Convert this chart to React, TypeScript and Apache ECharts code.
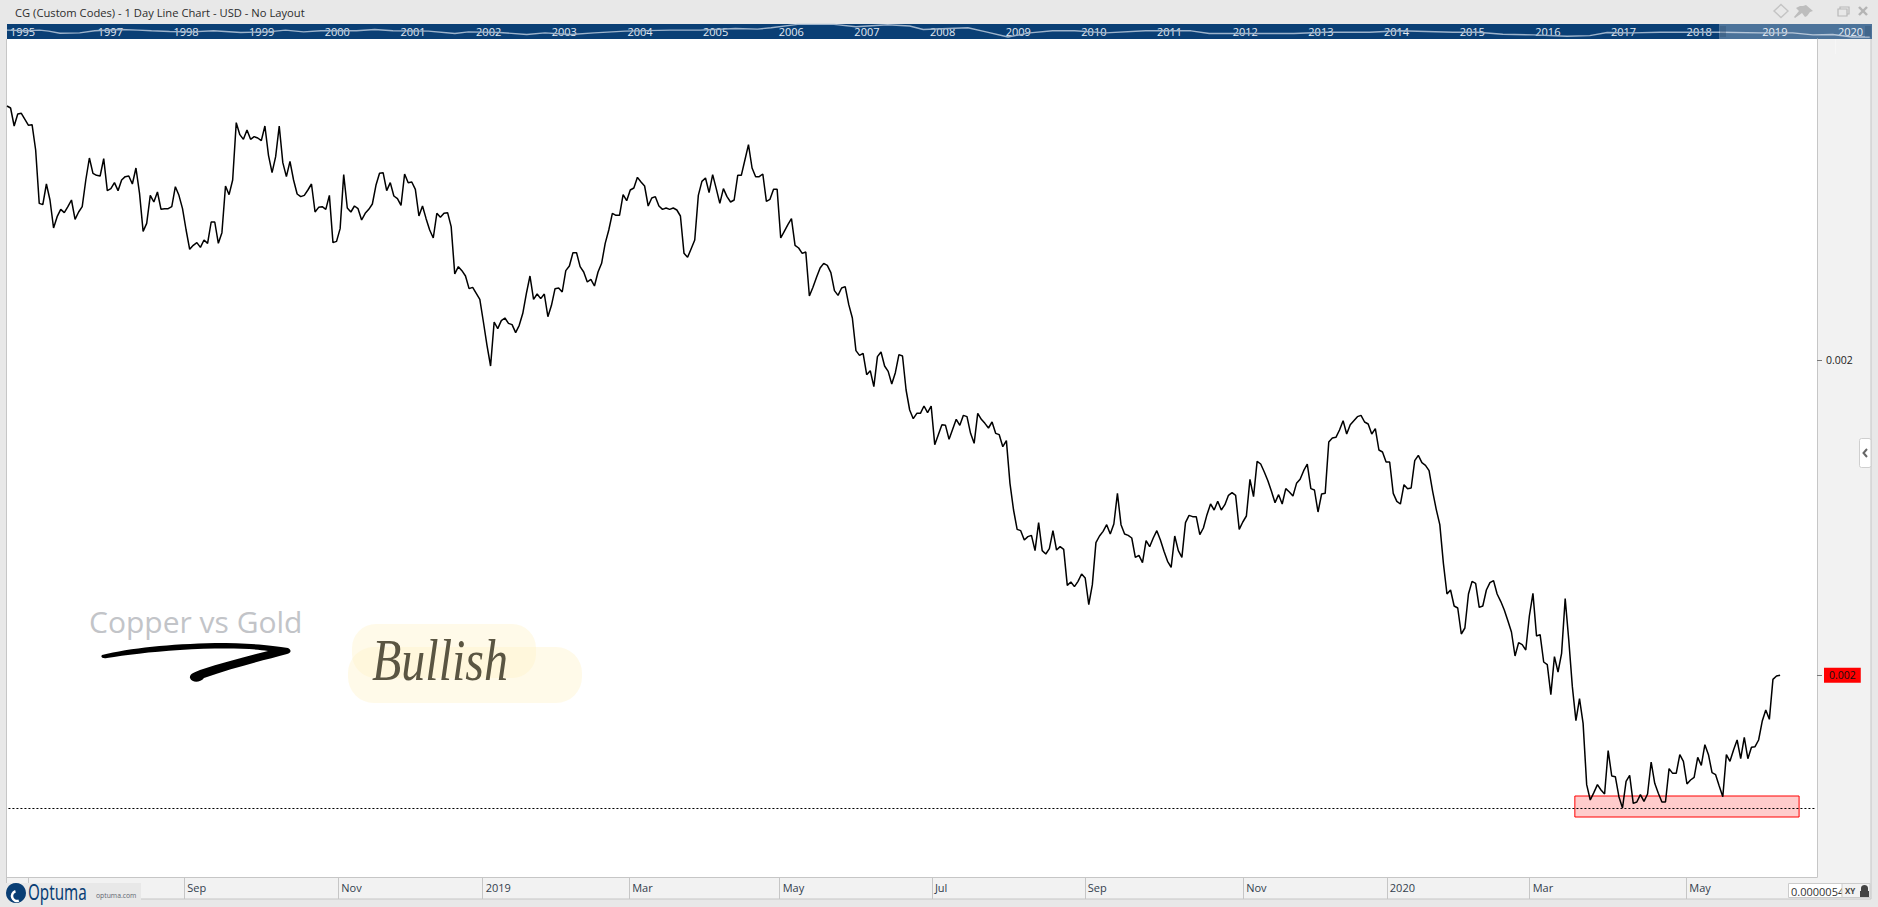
import React, { useEffect, useRef } from "react";
import * as echarts from "echarts";

// Copper / gold ratio, one close per trading day, in millionths
const ratioMicro = [
  2381,2378,2351,2369,2370,2361,2352,2353,2315,2235,2233,2264,2240,2198,2215,2226,2221,2230,2240,2211,
  2222,2230,2270,2303,2280,2277,2276,2302,2254,2257,2266,2254,2270,2275,2276,2264,2288,2250,2193,2205,
  2247,2237,2252,2226,2227,2227,2230,2260,2247,2227,2195,2166,2172,2176,2169,2180,2175,2207,2207,2175,
  2191,2261,2248,2270,2356,2338,2331,2345,2331,2335,2333,2329,2351,2307,2281,2305,2351,2296,2275,2298,
  2270,2249,2245,2247,2255,2264,2222,2229,2230,2226,2247,2176,2178,2197,2278,2228,2222,2231,2227,2210,
  2220,2226,2234,2262,2280,2281,2254,2266,2246,2242,2232,2279,2266,2267,2256,2216,2231,2212,2195,2183,
  2220,2214,2220,2221,2200,2129,2140,2134,2126,2107,2109,2100,2091,2057,2022,1991,2057,2047,2059,2063,
  2055,2053,2041,2052,2070,2100,2126,2091,2099,2092,2099,2065,2082,2107,2108,2102,2134,2141,2161,2161,
  2140,2132,2117,2121,2111,2132,2145,2175,2195,2220,2217,2217,2248,2239,2255,2258,2274,2267,2261,2231,
  2243,2245,2231,2226,2228,2226,2228,2225,2216,2160,2154,2167,2180,2247,
  2268,2273,2251,2278,2257,2235,2257,2245,2237,2240,2277,2277,2300,2323,2288,2275,2275,2279,2238,2241,
  2256,2256,2183,2193,2203,2212,2172,2168,2160,2162,2096,2109,2124,2138,2145,2142,2131,2104,2097,2108,
  2110,2083,2063,2014,2007,2010,1978,1984,1960,2005,2012,1991,1983,1964,1981,2008,2006,1955,
  1925,1912,1920,1920,1931,1921,1931,1873,1888,1903,1902,1881,1896,1911,1902,1917,1915,1890,1875,1920,
  1911,1905,1898,1907,1890,1888,1870,1879,1815,1775,1746,1744,1730,1735,1737,1714,1756,1714,1709,1717,
  1744,1715,1720,1716,1662,1667,1660,1668,1679,1673,1633,1663,1726,1736,1743,1753,1739,1754,1800,1753,
  1739,1737,1733,1704,1707,1696,1729,1720,1733,1744,1730,1713,1698,1689,1736,1714,1704,1756,1767,1765,
  1765,1738,1748,1768,1784,1775,1788,1775,1783,1797,1801,1797,1746,1757,1766,1821,1795,1848,1844,1832,
  1819,1803,1786,1798,1784,1807,1802,1796,1815,1821,1834,1844,1807,1805,1772,1799,1800,1877,1883,1884,
  1895,1909,1889,1903,1909,1915,1917,1907,1904,1889,1897,1865,1862,1847,1847,1800,1788,1784,
  1813,1807,1808,1849,1857,1846,1842,1834,1803,1776,1753,1695,1649,1655,1631,1628,1589,1598,1649,1668,
  1665,1629,1631,1655,1666,1669,1649,1638,1625,1609,1592,1556,1576,1573,1565,1616,1650,1586,1588,1547,
  1543,1498,1555,1532,1560,1642,1580,1510,1459,1492,1455,1363,1340,1351,1363,1355,1349,1414,1376,1375,
  1345,1328,1368,1377,1335,1337,1348,1338,1349,1397,1365,1350,1337,1337,1387,1380,1380,1408,1398,1364,
  1370,1374,1404,1392,1423,1408,1381,1378,1361,1345,1408,1398,1415,1430,1402,1434,1402,1419,1420,1430,
  1458,1475,1461,1521,1526,1527,
];
const supportLevelMicro = 1328;
const zoneLowMicro = 1314.5;
const zoneHighMicro = 1346;
const zoneStartDay = 437.7;
const zoneEndDay = 500.3;

// Time axis: month labels and the trading-day index they fall on
const monthLabels = ["Sep", "Nov", "2019", "Mar", "May", "Jul", "Sep", "Nov", "2020", "Mar", "May"];
const monthDays = [49.5, 92.5, 132.8, 173.7, 215.7, 258.2, 300.9, 345.1, 385.2, 425.1, 468.8];
const extraTickDays = [5.8];

// Navigator strip: whole history
const navYears = [
  1995.84,1996.1,1996.27,1996.39,1996.54,1996.8,1997,1997.34,1997.57,1997.75,1997.99,1998.28,1998.57,1998.93,
  1999.29,1999.52,1999.76,1999.99,2000.46,2000.7,2000.94,2001.41,2001.76,2001.94,2002.35,2002.71,2002.95,2003.29,
  2003.6,2004.01,2004.6,2005,2005.47,2005.76,2005.94,2006.29,2006.77,2007.06,2007.48,2007.77,2007.95,2008.54,
  2008.78,2009.07,2009.36,2009.66,2009.95,2010.36,2010.89,2011.49,2011.73,2012.02,2012.37,2012.85,2013.26,2013.85,
  2014.25,2014.95,2015.27,2015.61,2016.01,2016.46,2016.76,2016.99,2017.33,2017.69,2018.08,2018.48,2019.01,2019.44,
  2019.71,2019.97,2020.23,2020.46,
];
const navLevels = [
  26,24,26,23,17,18,24,28,26,24,22,21,24,19,21,26,21,24,24,28,24,23,16,21,19,13,18,13,
  18,23,26,26,31,29,33,43,43,36,42,38,28,33,21,6,18,24,24,18,24,24,16,16,16,16,20,20,
  24,20,20,14,12,8,10,19,18,20,20,20,18,18,12,13,6,6,
];
const navTickYears = [1997,1998,1999,2000,2001,2002,2003,2004,2005,2006,2007,2008,2009,2010,2011,2012,2013,2014,2015,2016,2017,2018,2019,2020];
const navFirstLabel = 1995.84;

const titleText = "CG (Custom Codes) - 1 Day Line Chart - USD - No Layout";

const ratio = ratioMicro.map((v) => v / 1e6);
const lastValue = ratio[ratio.length - 1];
const FONT = "'Open Sans', 'Noto Sans', sans-serif";

echarts.graphic.registerShape(
  "brushArrow",
  echarts.graphic.extendPath(
    "M102 655 C130 648 170 644 215 643 C245 643 272 645 288 648 C292 650 291 653 287 654 C265 660 235 667 204 678 C200 683 192 683 190 678 C189 674 195 672 200 670 C225 662 248 656 268 651 C250 648 215 648 180 650 C150 652 125 655 107 658 C103 659 100 657 102 655 Z",
    {}
  )
);
echarts.graphic.registerShape(
  "pinIcon",
  echarts.graphic.extendPath("M1806 5 L1813 11 L1810 12 L1807 16 L1805 17 L1802 13 L1795 18 L1794 17 L1799 11 L1796 8 L1800 6 L1803 6 Z", {})
);
echarts.graphic.registerShape(
  "lockIcon",
  echarts.graphic.extendPath("M1861 891 L1861 888 C1861 884 1868 884 1868 888 L1868 891 L1869 891 L1869 897 L1860 897 L1860 891 Z", {})
);

const rect = (x: number, y: number, w: number, h: number, fill: string, extra: any = {}) => ({
  type: "rect",
  shape: { x, y, width: w, height: h, r: extra.r ?? 0 },
  style: { fill, stroke: extra.stroke, lineWidth: extra.lineWidth ?? 0, opacity: extra.opacity ?? 1 },
  z: extra.z ?? -1,
  silent: true,
});
const line = (x1: number, y1: number, x2: number, y2: number, stroke: string, lineWidth = 1, z = 5) => ({
  type: "line",
  shape: { x1, y1, x2, y2 },
  style: { stroke, lineWidth },
  z,
  silent: true,
});
const label = (text: string, x: number, y: number, fontSize: number, fill: string, extra: any = {}) => ({
  type: "text",
  x,
  y,
  style: {
    text,
    fontSize,
    fill,
    fontFamily: extra.fontFamily ?? FONT,
    fontStyle: extra.fontStyle ?? "normal",
    fontWeight: extra.fontWeight ?? "normal",
    verticalAlign: "middle",
    align: extra.align ?? "left",
  },
  scaleX: extra.scaleX ?? 1,
  scaleY: extra.scaleY ?? 1,
  z: extra.z ?? 6,
  silent: true,
});

export default function App() {
  const ref = useRef<HTMLDivElement>(null);
  useEffect(() => {
    document.body.style.margin = "0";
    const chart = echarts.init(ref.current!, null, { renderer: "svg", width: 1878, height: 907 });
    chart.setOption({
      animation: false,
      backgroundColor: "#e8e8e8",
      grid: [
        { left: 7, top: 39, width: 1810, height: 838, show: true, backgroundColor: "#ffffff", borderWidth: 0, containLabel: false },
        { left: 7, top: 24, width: 1865, height: 15, show: true, backgroundColor: "#0a3f75", borderWidth: 0, containLabel: false },
      ],
      xAxis: [
        {
          type: "value",
          gridIndex: 0,
          min: 0,
          max: 505.3,
          splitLine: { show: false },
          axisLine: { show: true, onZero: false, lineStyle: { color: "#c6c6c6", width: 1 } },
          axisTick: {
            show: true,
            inside: false,
            length: 22,
            customValues: [...extraTickDays, ...monthDays],
            lineStyle: { color: "#c6c6c6", width: 1 },
          },
          axisLabel: {
            show: true,
            customValues: monthDays,
            formatter: (v: number) => monthLabels[monthDays.indexOf(v)] ?? "",
            align: "left",
            margin: 5,
            padding: [0, 0, 0, 3],
            fontSize: 11,
            fontFamily: FONT,
            color: "#33404d",
          },
        },
        {
          type: "value",
          gridIndex: 1,
          position: "top",
          min: 1995.84,
          max: 2020.49,
          splitLine: { show: false },
          axisLine: { show: false },
          axisTick: {
            show: true,
            inside: true,
            length: 15,
            customValues: navTickYears,
            lineStyle: { color: "rgba(255,255,255,0.3)", width: 1 },
          },
          axisLabel: {
            show: true,
            inside: true,
            customValues: [navFirstLabel, ...navTickYears],
            formatter: (v: number) => String(Math.floor(v)),
            align: "left",
            verticalAlign: "middle",
            margin: 7,
            padding: [0, 0, 0, 3],
            fontSize: 11,
            fontFamily: FONT,
            color: "#e3eaf2",
          },
        },
      ],
      yAxis: [
        {
          type: "value",
          gridIndex: 0,
          position: "right",
          min: 1224.5e-6,
          max: 2481.5e-6,
          splitLine: { show: false },
          axisLine: { show: true, onZero: false, lineStyle: { color: "#c6c6c6", width: 1 } },
          axisTick: {
            show: true,
            length: 5,
            customValues: [0.002, lastValue],
            lineStyle: { color: "#777777", width: 1 },
          },
          axisLabel: {
            show: true,
            customValues: [0.002, lastValue],
            margin: 7,
            formatter: (v: number) => (v === lastValue ? "{tag|" + v.toFixed(3) + "}" : "{plain|" + v.toFixed(3) + "}"),
            rich: {
              plain: { fontSize: 10.5, fontFamily: FONT, color: "#222222", padding: [0, 0, 0, 2] },
              tag: { fontSize: 10.5, fontFamily: FONT, color: "#111111", backgroundColor: "#ff0000", padding: [2, 5, 2, 5] },
            },
          },
        },
        {
          type: "value",
          gridIndex: 1,
          min: 0,
          max: 44,
          show: false,
          splitLine: { show: false },
        },
      ],
      series: [
        {
          type: "line",
          xAxisIndex: 0,
          yAxisIndex: 0,
          data: ratio.map((v, i) => [i, v]),
          symbol: "none",
          silent: true,
          lineStyle: { color: "#000000", width: 1.5 },
          z: 5,
          markArea: {
            silent: true,
            z: 3,
            itemStyle: { color: "rgba(255,0,0,0.2)", borderColor: "#ff0000", borderWidth: 1 },
            data: [[
              { xAxis: zoneStartDay, yAxis: zoneHighMicro / 1e6 },
              { xAxis: zoneEndDay, yAxis: zoneLowMicro / 1e6 },
            ]],
          },
          markLine: {
            silent: true,
            symbol: "none",
            z: 4,
            label: { show: false },
            lineStyle: { color: "#000000", width: 1, type: [2, 2] },
            data: [[
              { xAxis: 0.4, yAxis: supportLevelMicro / 1e6 },
              { xAxis: 504.8, yAxis: supportLevelMicro / 1e6 },
            ]],
          },
        },
        {
          type: "line",
          xAxisIndex: 1,
          yAxisIndex: 1,
          data: navYears.map((y, i) => [y, navLevels[i]]),
          symbol: "none",
          silent: true,
          lineStyle: { color: "#9db3cb", width: 1.4 },
          z: 2,
        },
      ],
      graphic: {
        elements: [
          // window panels
          rect(1817, 39, 54, 838, "#f2f2f2"),
          rect(7, 877, 1864, 22, "#f2f2f2"),
          line(1871, 39, 1871, 899, "#c6c6c6", 1, 1),
          line(7, 899, 1871, 899, "#c6c6c6", 1, 1),
          line(6.5, 39, 6.5, 899, "#c6c6c6", 1, 1),
          label(titleText, 15, 12, 11.2, "#2c2c2c"),
          // window icons
          { type: "polygon", shape: { points: [[1781, 4.5], [1788, 11], [1781, 17.5], [1774, 11]] }, style: { fill: "none", stroke: "#c4c4c4", lineWidth: 1.4 }, silent: true, z: 6 },
          { type: "pinIcon", style: { fill: "#bdbdbd" }, silent: true, z: 6 },
          rect(1840, 7, 9, 7, "none", { stroke: "#b8b8b8", lineWidth: 1.2, z: 6 }),
          rect(1838, 9, 9, 7, "#e8e8e8", { stroke: "#b8b8b8", lineWidth: 1.2, z: 6 }),
          line(1859, 7, 1867, 15, "#b4b4b4", 2.4, 6),
          line(1867, 7, 1859, 15, "#b4b4b4", 2.4, 6),
          // navigator selection window
          rect(1719, 24, 153, 15, "#ffffff", { opacity: 0.27, z: 8 }),
          line(1721, 26, 1721, 37, "#2e4e70", 0.7, 9),
          line(1723, 26, 1723, 37, "#2e4e70", 0.7, 9),
          line(1725, 26, 1725, 37, "#2e4e70", 0.7, 9),
          line(1866, 26, 1866, 37, "#2e4e70", 0.7, 9),
          line(1868, 26, 1868, 37, "#2e4e70", 0.7, 9),
          line(1870, 26, 1870, 37, "#2e4e70", 0.7, 9),
          // side collapse tab
          rect(1859.5, 438.5, 11.5, 29, "#ffffff", { stroke: "#cfcfcf", lineWidth: 1, r: 2, z: 6 }),
          { type: "polyline", shape: { points: [[1867, 449], [1863.5, 453], [1867, 457]] }, style: { stroke: "#666666", lineWidth: 2, fill: "none" }, silent: true, z: 7 },
          // bottom-right scale box
          rect(1788.5, 883.5, 54, 14, "#ffffff", { stroke: "#cccccc", lineWidth: 1, z: 6 }),
          label("0.0000054", 1791, 891, 11, "#333333", { z: 7 }),
          rect(1842, 883.5, 28, 14, "#f2f2f2", { stroke: "#cccccc", lineWidth: 1, z: 8 }),
          label("XY", 1845, 890, 8, "#444444", { fontWeight: "bold", z: 9 }),
          { type: "lockIcon", style: { fill: "#444444" }, silent: true, z: 9 },
          // annotation: copper vs gold + arrow
          label("Copper vs Gold", 89, 621, 30, "#c2c4c8"),
          { type: "brushArrow", style: { fill: "#000000" }, silent: true, z: 6 },
          // annotation: bullish note
          rect(352, 624, 184, 54, "#fff3c8", { r: 24, opacity: 0.4, z: 3 }),
          rect(348, 647, 234, 56, "#fff3c8", { r: 26, opacity: 0.4, z: 3 }),
          label("Bullish", 372, 660, 48, "#5a5542", { fontFamily: "'Liberation Serif', serif", fontStyle: "italic", scaleY: 1.25 }),
          // logo
          rect(5, 883, 136, 20, "#e8e8e8", { z: 6 }),
          { type: "circle", shape: { cx: 16, cy: 893, r: 10 }, style: { fill: "#0a3f75" }, silent: true, z: 7 },
          { type: "arc", shape: { cx: 17, cy: 896, r: 5, startAngle: 1.2, endAngle: 4.4, clockwise: true }, style: { stroke: "#ffffff", lineWidth: 2.5, fill: "none" }, silent: true, z: 8 },
          label("Optuma", 28, 892, 22, "#0a3f75", { z: 8, fontFamily: "'Noto Sans', sans-serif", scaleX: 0.69 }),
          label("optuma.com", 96, 895, 6.8, "#5f6770", { z: 8 }),
        ],
      },
    });
    return () => chart.dispose();
  }, []);
  return <div ref={ref} style={{ position: "fixed", left: 0, top: 0, width: 1878, height: 907, overflow: "hidden" }} />;
}
